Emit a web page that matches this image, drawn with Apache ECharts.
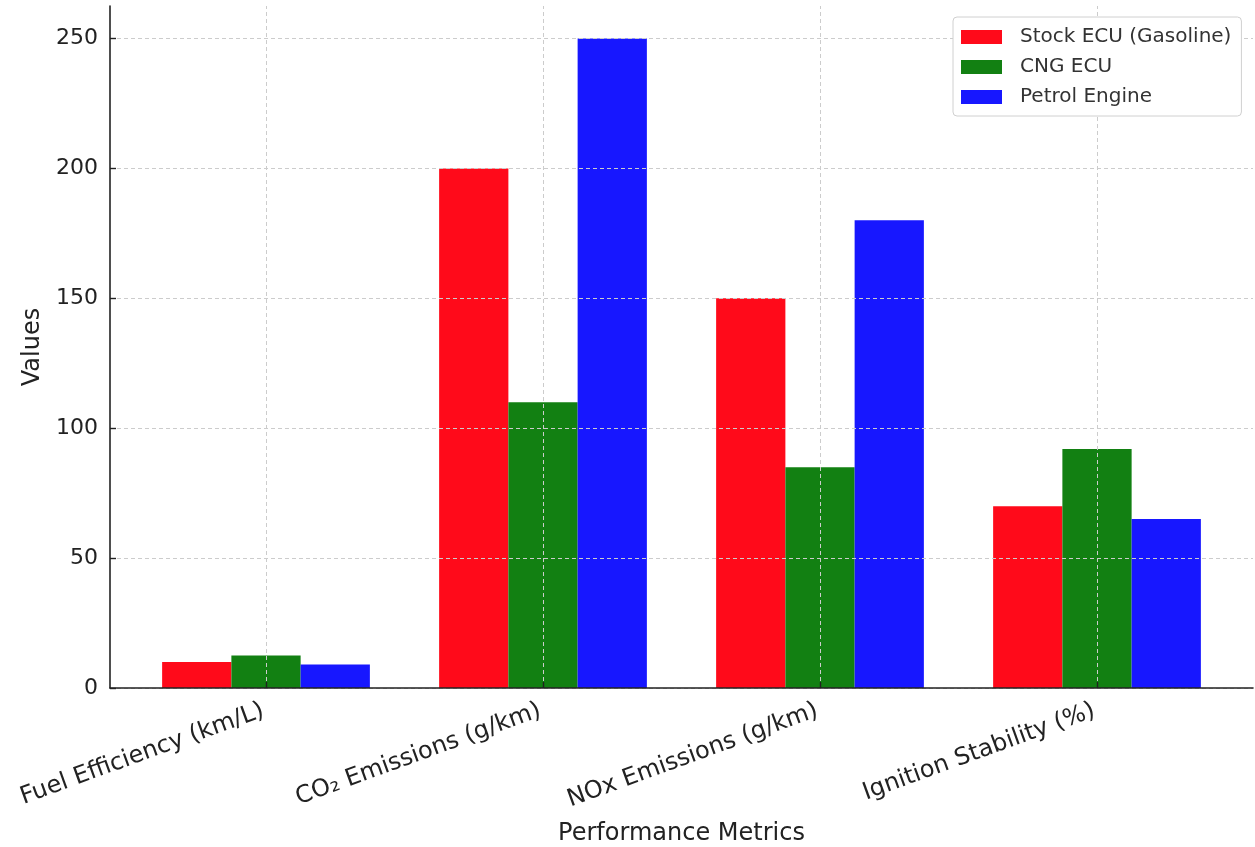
<!DOCTYPE html>
<html>
<head>
<meta charset="utf-8">
<script src="https://cdn.jsdelivr.net/npm/echarts@6/dist/echarts.min.js"></script>
<style>
html,body{margin:0;padding:0;background:#fff;}
#chart{width:1255px;height:847px;}
</style>
</head>
<body>
<div id="chart"></div>
<script>
const categories = ['Fuel Efficiency (km/L)', 'CO₂ Emissions (g/km)', 'NOx Emissions (g/km)', 'Ignition Stability (%)'];
const seriesNames = ['Stock ECU (Gasoline)', 'CNG ECU', 'Petrol Engine'];
const stockECU = [10, 200, 150, 70];
const cngECU = [12.5, 110, 85, 92];
const petrolEngine = [9, 250, 180, 65];
const yTicks = [0, 50, 100, 150, 200, 250];
const colors = ['#ff0a1a', '#128012', '#1717ff'];

const FONT = 'DejaVu Sans';
const TOP = 6, BOTTOM = 159;
const YMAX = 262.5;

const chart = echarts.init(document.getElementById('chart'), null, {renderer: 'canvas'});

const gridLineStyle = {color: '#cccccc', width: 1, type: [4, 3]};

const seriesData = [stockECU, cngECU, petrolEngine];
const series = seriesData.map((d, i) => ({
  name: seriesNames[i],
  type: 'bar',
  xAxisIndex: 0,
  yAxisIndex: 0,
  data: d,
  barWidth: '25%',
  barGap: '0%',
  itemStyle: {color: colors[i]},
  z: 2
}));
// vertical grid lines at category centres, drawn above bars
series.push({
  name: 'vgrid',
  type: 'line',
  xAxisIndex: 0,
  yAxisIndex: 0,
  data: [],
  showSymbol: false,
  silent: true,
  z: 5,
  markLine: {
    silent: true,
    symbol: 'none',
    label: {show: false},
    lineStyle: gridLineStyle,
    z: 5,
    data: categories.map(c => ({xAxis: c}))
  }
});

const option = {
  backgroundColor: '#ffffff',
  animation: false,
  textStyle: {fontFamily: FONT},
  legend: {
    orient: 'vertical',
    left: 953,
    top: 17,
    data: seriesNames,
    icon: 'rect',
    itemWidth: 41,
    itemHeight: 14,
    itemGap: 10,
    padding: [10, 10, 9, 8],
    backgroundColor: '#ffffff',
    borderColor: '#d0d0d0',
    borderWidth: 1,
    borderRadius: 4,
    textStyle: {fontFamily: FONT, fontSize: 20, color: '#333333', padding: [0, 0, 0, 13]},
    z: 20
  },
  grid: [
    {left: 127.5, right: 19.5, top: TOP, bottom: BOTTOM, outerBoundsMode: 'none', containLabel: false},
    {left: 110, right: 2, top: TOP, bottom: BOTTOM, outerBoundsMode: 'none', containLabel: false}
  ],
  xAxis: [
    {
      type: 'category',
      gridIndex: 0,
      data: categories,
      axisLine: {show: false},
      axisTick: {show: true, alignWithLabel: true, inside: true, length: 6, lineStyle: {color: '#222', width: 1.4}},
      axisLabel: {rotate: 20, fontFamily: FONT, fontSize: 24, color: '#222', margin: 21, interval: 0, padding: [0, 3, 0, 0]},
      splitLine: {show: false},
      z: 6
    },
    {
      type: 'value',
      gridIndex: 1,
      min: 0,
      max: 1,
      axisLine: {show: true, lineStyle: {color: '#222', width: 1.6}},
      axisTick: {show: false},
      axisLabel: {show: false},
      splitLine: {show: false},
      name: 'Performance Metrics',
      nameLocation: 'middle',
      nameGap: 134,
      nameTextStyle: {fontFamily: FONT, fontSize: 24, color: '#222'},
      z: 6
    }
  ],
  yAxis: [
    {
      type: 'value',
      gridIndex: 0,
      min: 0,
      max: YMAX,
      show: false
    },
    {
      type: 'value',
      gridIndex: 1,
      min: 0,
      max: YMAX,
      interval: 50,
      axisLine: {show: true, lineStyle: {color: '#222', width: 1.6}},
      axisTick: {show: true, inside: true, length: 6, lineStyle: {color: '#222', width: 1.4}},
      axisLabel: {
        fontFamily: FONT, fontSize: 22, color: '#222', margin: 12,
        showMaxLabel: false,
        formatter: v => (yTicks.indexOf(v) >= 0 ? String(v) : '')
      },
      splitLine: {show: true, showMaxLine: false, lineStyle: gridLineStyle},
      name: 'Values',
      nameLocation: 'middle',
      nameGap: 65,
      nameTextStyle: {fontFamily: FONT, fontSize: 24, color: '#222'},
      z: 6
    }
  ],
  series: series
};

chart.setOption(option);
</script>
</body>
</html>
